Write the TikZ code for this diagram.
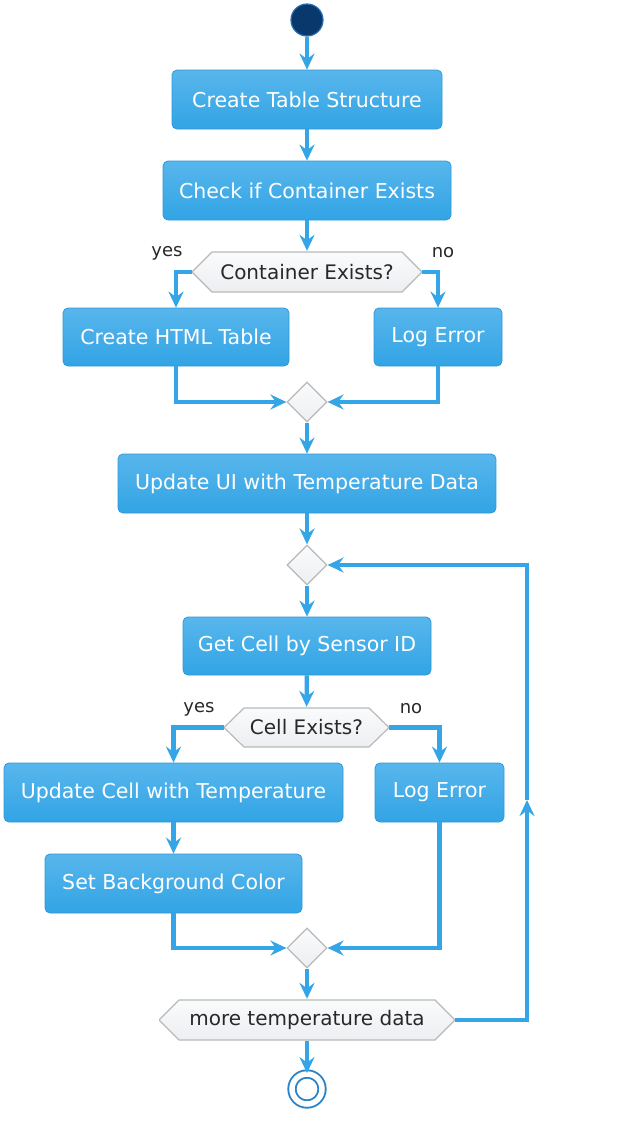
\documentclass[tikz,border=0pt]{standalone}
\usepackage{fontspec}
\setmainfont{DejaVu Sans}
\usetikzlibrary{arrows.meta,shapes.geometric}
\definecolor{flowblue}{RGB}{52,165,230}
\definecolor{acttop}{RGB}{88,182,236}
\definecolor{actbot}{RGB}{50,164,229}
\definecolor{actline}{RGB}{46,152,216}
\definecolor{dectop}{RGB}{250,251,252}
\definecolor{decbot}{RGB}{236,238,241}
\definecolor{decline}{RGB}{185,185,185}
\definecolor{txtgray}{RGB}{40,40,40}
\definecolor{startfill}{RGB}{8,56,108}
\definecolor{startline}{RGB}{38,110,175}
\definecolor{stopline}{RGB}{40,132,198}
\tikzset{
act/.style={rounded corners=5pt,draw=actline,line width=0.8pt,top color=acttop,bottom color=actbot,text=white,font=\fontsize{20.5}{24}\selectfont,inner sep=0pt},
dec/.style={rectangle,inner sep=0pt,text=txtgray,font=\fontsize{20}{24}\selectfont,
  path picture={\shade[draw=decline,line width=1.2pt,top color=dectop,bottom color=decbot]
    (path picture bounding box.west) -- ([xshift=20pt,yshift=-1pt]path picture bounding box.north west)
    -- ([xshift=-20pt,yshift=-1pt]path picture bounding box.north east) -- (path picture bounding box.east)
    -- ([xshift=-20pt,yshift=1pt]path picture bounding box.south east) -- ([xshift=20pt,yshift=1pt]path picture bounding box.south west) -- cycle;}},
merge/.style={diamond,draw=decline,line width=1.2pt,top color=dectop,bottom color=decbot,minimum width=40pt,minimum height=40pt,inner sep=0pt},
lbl/.style={text=txtgray,font=\fontsize{18}{21}\selectfont},
flow/.style={draw=flowblue,line width=4.3pt,-{Stealth[length=16pt,width=15pt,inset=5.5pt]}}
}
\begin{document}
\begin{tikzpicture}[x=1pt,y=-1pt]
\useasboundingbox (0,0) rectangle (627,1141);
% start and first steps
\node[circle,draw=startline,line width=1.2pt,fill=startfill,minimum size=32pt] (start) at (307,20) {};
\node[act,minimum width=270pt,minimum height=59pt] (mktable) at (307,99.5) {Create Table Structure};
\node[act,minimum width=288pt,minimum height=59pt] (chkbox) at (307,190.5) {Check if Container Exists};
\node[dec,minimum width=230pt,minimum height=42pt] (hasbox) at (307,272) {Container Exists?};
\node[lbl] (yesA) at (167,253) {yes};
\node[lbl] (noA) at (443,253) {no};
\node[act,minimum width=226pt,minimum height=58pt] (mkhtml) at (176,337) {Create HTML Table};
\node[act,minimum width=128pt,minimum height=58pt] (errA) at (438,337) {Log Error};
\node[merge] (joinA) at (307,402) {};
\node[act,minimum width=378pt,minimum height=59pt] (updui) at (307,483.5) {Update UI with Temperature Data};
% loop
\node[merge] (loop) at (307,565) {};
\node[act,minimum width=248pt,minimum height=58pt] (getcell) at (307,646) {Get Cell by Sensor ID};
\node[dec,minimum width=165pt,minimum height=41pt] (hascell) at (306.5,727.5) {Cell Exists?};
\node[lbl] (yesB) at (199,709) {yes};
\node[lbl] (noB) at (411,709) {no};
\node[act,minimum width=339pt,minimum height=59pt] (updcell) at (173.5,792.5) {Update Cell with Temperature};
\node[act,minimum width=129pt,minimum height=59pt] (errB) at (439.5,792.5) {Log Error};
\node[act,minimum width=257pt,minimum height=59pt] (setbg) at (173.5,883.5) {Set Background Color};
\node[merge] (joinB) at (307,948) {};
\node[dec,minimum width=296pt,minimum height=42pt] (more) at (307,1020) {more temperature data};
\node[circle,draw=stopline,line width=1.9pt,double,double distance=5.5pt,minimum size=30pt] (stop) at (307,1089) {};
\coordinate (back) at (527,800);
% connectors
\draw[flow] (start) -- (mktable);
\draw[flow] (mktable) -- (chkbox);
\draw[flow] (chkbox) -- (hasbox);
\draw[flow] (hasbox.west) -| (mkhtml.north);
\draw[flow] (hasbox.east) -| (errA.north);
\draw[flow] (mkhtml.south) |- (joinA.west);
\draw[flow] (errA.south) |- (joinA.east);
\draw[flow] (joinA) -- (updui);
\draw[flow] (updui) -- (loop);
\draw[flow] (loop) -- (getcell);
\draw[flow] (getcell) -- (hascell);
\draw[flow] (hascell.west) -| (updcell.north);
\draw[flow] (hascell.east) -| (errB.north);
\draw[flow] (updcell) -- (setbg);
\draw[flow] (setbg.south) |- (joinB.west);
\draw[flow] (errB.south) |- (joinB.east);
\draw[flow] (joinB) -- (more);
\draw[flow] (more.east) -| (back);
\draw[flow] (back) |- (loop.east);
\draw[flow] (more) -- (stop);
\end{tikzpicture}
\end{document}
